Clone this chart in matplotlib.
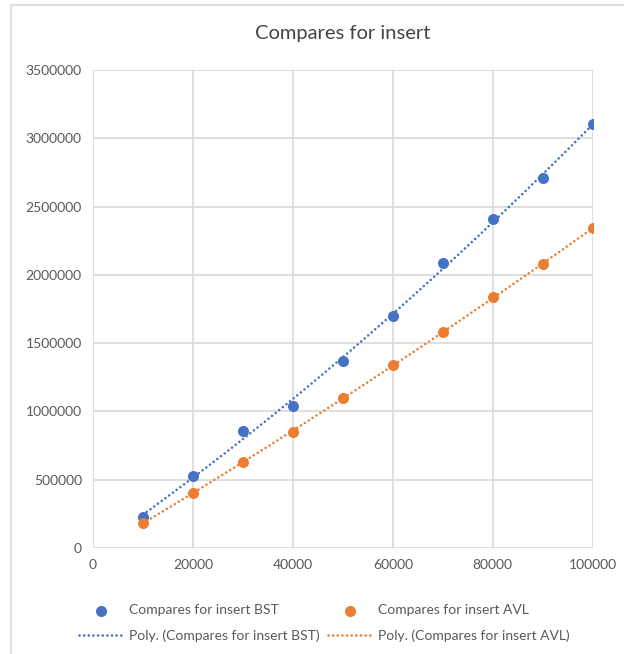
import matplotlib.pyplot as plt
import numpy as np
from matplotlib.patches import Rectangle

# values
n_elems = [10000, 20000, 30000, 40000, 50000, 60000, 70000, 80000, 90000, 100000]
bst_compares = [229000, 527000, 856000, 1040000, 1370000, 1698000, 2090000, 2408000, 2708000, 3104000]
avl_compares = [186000, 400000, 628000, 852000, 1095000, 1340000, 1583000, 1836000, 2079000, 2341000]

x_ticks = [0, 20000, 40000, 60000, 80000, 100000]
y_ticks = [0, 500000, 1000000, 1500000, 2000000, 2500000, 3000000, 3500000]

blue = '#4472C4'
orange = '#ED7D31'
grey_txt = '#595959'

plt.rcParams['font.family'] = ['Lato', 'DejaVu Sans']

fig = plt.figure(figsize=(6.24, 6.54), dpi=100)
ax = fig.add_axes([0.149, 0.162, 0.801, 0.731])

# chart border, like the excel chart frame
fig.patches.append(Rectangle((11/624, -0.1), 2.0, 1 - 5/654 + 0.1, transform=fig.transFigure,
                             fill=False, edgecolor='#D9D9D9', linewidth=1.2))

xx = np.array(n_elems, dtype=float)
xs = np.linspace(xx.min(), xx.max(), 200)
fit_bst = np.poly1d(np.polyfit(xx, bst_compares, 2))
fit_avl = np.poly1d(np.polyfit(xx, avl_compares, 2))

dots = (0, (0.01, 1.75))
h1 = ax.scatter(n_elems, bst_compares, s=48, color=blue, zorder=3, label='Compares for insert BST')
h2 = ax.scatter(n_elems, avl_compares, s=48, color=orange, zorder=3, label='Compares for insert AVL')
l1, = ax.plot(xs, fit_bst(xs), color=blue, linewidth=1.9, linestyle=dots,
              dash_capstyle='round', zorder=4, label='Poly. (Compares for insert BST)')
l2, = ax.plot(xs, fit_avl(xs), color=orange, linewidth=1.9, linestyle=dots,
              dash_capstyle='round', zorder=4, label='Poly. (Compares for insert AVL)')

ax.set_xlim(0, 100000)
ax.set_ylim(0, 3500000)
ax.set_xticks(x_ticks)
ax.set_yticks(y_ticks)
ax.set_xticklabels([str(t) for t in x_ticks])
ax.set_yticklabels([str(t) for t in y_ticks])
ax.grid(True, color='#D9D9D9', linewidth=1.2)
ax.set_axisbelow(True)
for s in ax.spines.values():
    s.set_visible(False)
ax.tick_params(length=0, labelsize=10, colors=grey_txt, pad=8)

ax.set_title('Compares for insert', fontsize=14.5, color='#444444', pad=22)

fig.legend(handles=[h1, l1, h2, l2], ncol=2, loc='lower center', bbox_to_anchor=(0.52, 0.0),
           frameon=False, fontsize=10, labelcolor=grey_txt, handlelength=3.2,
           columnspacing=0.6, handletextpad=0.4, labelspacing=0.9)

plt.savefig('out.png', dpi=100)
